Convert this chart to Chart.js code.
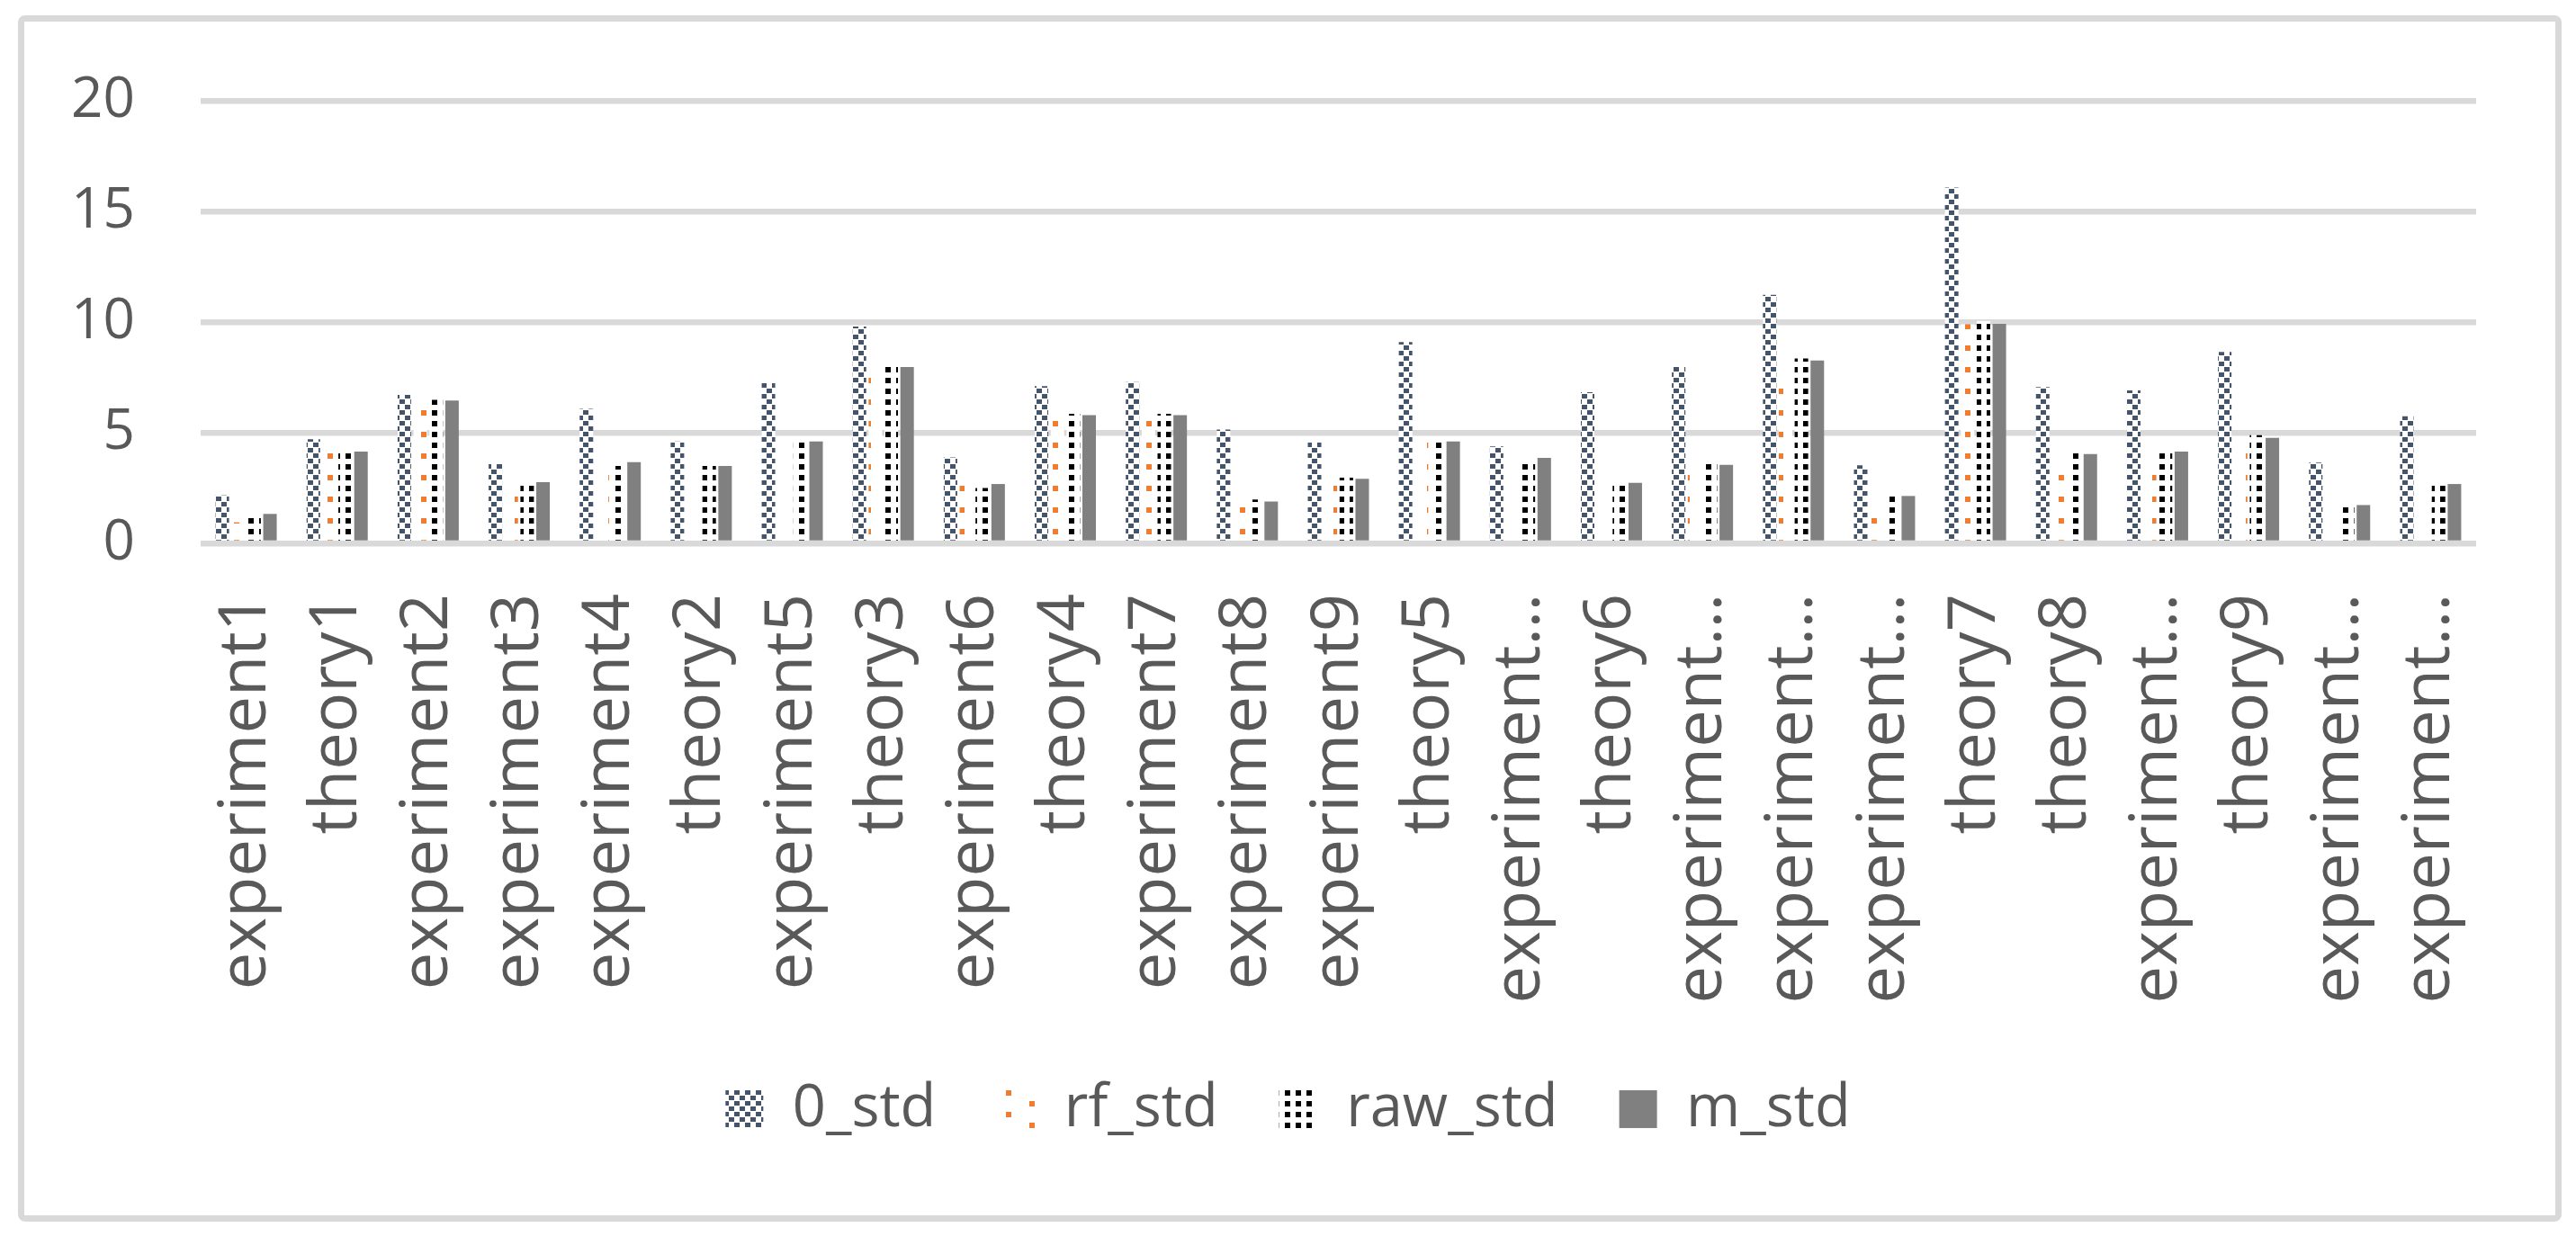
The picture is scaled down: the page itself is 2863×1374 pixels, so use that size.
<!DOCTYPE html>
<html>
<head>
<meta charset="utf-8">
<script src="https://cdn.jsdelivr.net/npm/chart.js@4.4.1/dist/chart.umd.min.js"></script>
<style>
    html, body { margin: 0; padding: 0; background: #ffffff; }
    #wrap { position: relative; width: 2863px; height: 1374px; }
    #frame { position: absolute; left: 20px; top: 17px; width: 2813px; height: 1327px; border: 7px solid #D9D9D9; border-radius: 8px; }
    #chart { position: absolute; left: 0; top: 0; }
</style>
</head>
<body>
<div id="wrap">
    <div id="frame"></div>
    <canvas id="chart" width="2863" height="1374"></canvas>
</div>
<script>
// ============================================
// DATA
// ============================================
var categories = ['experiment1', 'theory1', 'experiment2', 'experiment3', 'experiment4', 'theory2',
    'experiment5', 'theory3', 'experiment6', 'theory4', 'experiment7', 'experiment8', 'experiment9',
    'theory5', 'experiment10', 'theory6', 'experiment11', 'experiment12', 'experiment13', 'theory7',
    'theory8', 'experiment14', 'theory9', 'experiment15', 'experiment16'];

var std0 = [2.17, 4.71, 6.71, 3.58, 6.08, 4.6, 7.26, 9.8, 3.88, 7.1, 7.29, 5.14, 4.56,
    9.1, 4.38, 6.83, 7.97, 11.23, 3.53, 16.08, 7.06, 6.91, 8.65, 3.65, 5.74];
var rfStd = [0.95, 4.1, 6.4, 2.75, 3.3, 3.4, 4.5, 7.95, 2.6, 5.8, 5.8, 1.8, 2.8,
    4.7, 3.7, 2.6, 3.5, 7.6, 1.5, 9.9, 3.7, 3.7, 4.6, 1.5, 2.6];
var rawStd = [1.35, 4.18, 6.48, 2.74, 3.5, 3.5, 4.56, 8.05, 2.5, 5.85, 5.85, 1.98, 2.97,
    4.76, 3.8, 2.74, 3.58, 8.35, 2.17, 10.05, 4.1, 4.23, 4.89, 1.76, 2.77];
var mStd = [1.33, 4.15, 6.45, 2.76, 3.67, 3.5, 4.6, 7.97, 2.68, 5.79, 5.79, 1.89, 2.92,
    4.6, 3.86, 2.73, 3.55, 8.26, 2.14, 9.92, 4.03, 4.15, 4.77, 1.73, 2.68];

var seriesNames = ['0_std', 'rf_std', 'raw_std', 'm_std'];
var yTicks = [0, 5, 10, 15, 20];

var textColor = '#595959';
var gridColor = '#D9D9D9';
var fontFamily = "'Open Sans', 'Noto Sans', sans-serif";

// ============================================
// PATTERN FILLS
// ============================================
var ctx = document.getElementById('chart').getContext('2d');

function makePattern(w, h, color, squares) {
    var c = document.createElement('canvas');
    c.width = w;
    c.height = h;
    var g = c.getContext('2d');
    g.fillStyle = '#ffffff';
    g.fillRect(0, 0, w, h);
    g.fillStyle = color;
    for (var i = 0; i < squares.length; i++) {
        g.fillRect(squares[i][0], squares[i][1], squares[i][2], squares[i][3]);
    }
    return ctx.createPattern(c, 'repeat');
}

// navy zigzag checker, sparse orange dots, black dot grid
var checkerNavy = makePattern(12, 12, '#44546A', [[0, 0, 6, 5], [6, 6, 6, 5]]);
var dotsOrange = makePattern(52, 24, '#ED7D31', [[0, 0, 6, 6], [26, 12, 6, 6]]);
var dotsBlack = makePattern(12, 12, '#000000', [[0, 0, 6, 6]]);

// ============================================
// CHART
// ============================================
new Chart(ctx, {
    type: 'bar',
    data: {
        labels: categories,
        datasets: [
            { label: seriesNames[0], data: std0, backgroundColor: checkerNavy, borderWidth: 0 },
            { label: seriesNames[1], data: rfStd, backgroundColor: dotsOrange, borderWidth: 0 },
            { label: seriesNames[2], data: rawStd, backgroundColor: dotsBlack, borderWidth: 0 },
            { label: seriesNames[3], data: mStd, backgroundColor: '#808080', borderWidth: 0 }
        ]
    },
    options: {
        responsive: false,
        animation: false,
        devicePixelRatio: 1,
        layout: { padding: { top: 112, left: 20, right: 20, bottom: 98.5 } },
        datasets: {
            bar: { categoryPercentage: 0.698, barPercentage: 0.85 }
        },
        plugins: {
            tooltip: { enabled: false },
            legend: {
                position: 'bottom',
                labels: {
                    color: textColor,
                    font: { family: fontFamily, size: 65 },
                    boxWidth: 42,
                    boxHeight: 42,
                    padding: 68
                }
            }
        },
        scales: {
            x: {
                grid: { display: false, drawTicks: false },
                border: { display: false },
                ticks: {
                    color: textColor,
                    font: { family: fontFamily, size: 74 },
                    minRotation: 90,
                    maxRotation: 90,
                    autoSkip: false,
                    padding: 56,
                    callback: function(value) {
                        var s = this.getLabelForValue(value);
                        return s.length > 11 ? s.slice(0, 10) + '\u2026' : s;
                    }
                },
                afterFit: function(scale) { scale.height = 528.5; }
            },
            y: {
                min: yTicks[0],
                max: yTicks[yTicks.length - 1],
                grid: { color: gridColor, lineWidth: 6.5, drawTicks: false },
                border: { display: false },
                ticks: {
                    stepSize: 5,
                    color: textColor,
                    font: { family: fontFamily, size: 62 },
                    padding: 73
                },
                afterFit: function(scale) { scale.width = 203; }
            },
            yr: {
                position: 'right',
                grid: { display: false, drawTicks: false },
                border: { display: false },
                ticks: { display: false },
                afterFit: function(scale) { scale.width = 91; }
            }
        }
    }
});
</script>
</body>
</html>
